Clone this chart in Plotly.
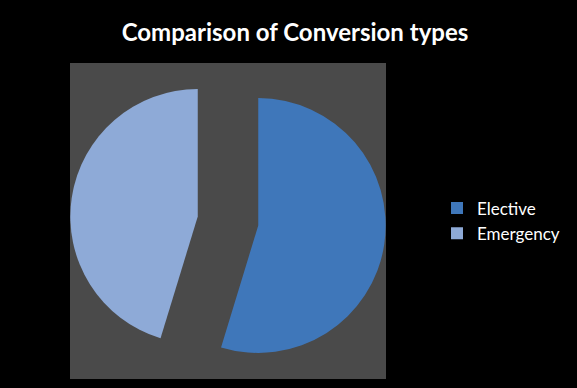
import plotly.graph_objects as go

labels = ["Elective", "Emergency"]
values = [29, 24]
colors = ["#3F77BA", "#8EAAD7"]

W, H = 577, 388
px0, px1 = 70, 386
py0, py1 = 63, 379

fig = go.Figure(go.Pie(
    labels=labels, values=values,
    marker=dict(colors=colors, line=dict(width=0)),
    pull=[0.24, 0.24],
    textinfo="none", hoverinfo="label+percent",
    sort=False, direction="clockwise", rotation=0,
    domain=dict(x=[px0 / W, px1 / W], y=[1 - py1 / H, 1 - py0 / H]),
))

fig.add_shape(type="rect", xref="paper", yref="paper",
              x0=px0 / W, x1=px1 / W, y0=1 - py1 / H, y1=1 - py0 / H,
              fillcolor="#4A4A4A", line=dict(width=0), layer="below")

fig.update_layout(
    width=W, height=H,
    margin=dict(l=0, r=0, t=0, b=0),
    paper_bgcolor="#000000", plot_bgcolor="#000000",
    title=dict(text="<b>Comparison of Conversion types</b>",
               x=295 / W, xanchor="center", y=1 - 33 / H, yanchor="middle",
               font=dict(family="Lato", size=24, color="#FFFFFF")),
    legend=dict(x=437 / W, xanchor="left", y=1 - 221 / H, yanchor="middle",
                font=dict(family="Lato", size=17, color="#FFFFFF"),
                bgcolor="rgba(0,0,0,0)"),
    showlegend=True,
)

fig.write_html("out.html")
